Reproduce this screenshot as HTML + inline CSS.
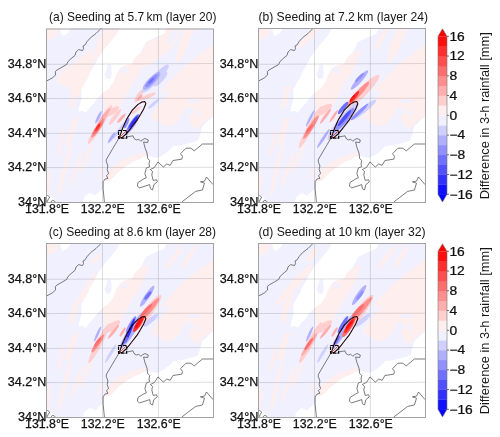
<!DOCTYPE html><html><head><meta charset="utf-8"><style>html,body{margin:0;padding:0;background:#fff;width:500px;height:437px;overflow:hidden}svg{display:block}text{font-family:"Liberation Sans",sans-serif;fill:#111;stroke:#111;stroke-width:0.25px}text.t{stroke:none;fill:#161616}</style></head><body>
<svg style="will-change:transform" width="500" height="437" viewBox="0 0 500 437">
<rect width="500" height="437" fill="#fff"/>
<defs><clipPath id="pc"><rect x="0" y="0" width="167" height="174"/></clipPath>
<g id="bg">
<rect x="0" y="0" width="167" height="174" fill="rgb(240,240,255)"/>
<g fill="rgb(255,238,238)">
<polygon points="0,0 13,0 11,7 6,11 0,12"/>
<polygon points="167,16.5 141.2,35.7 136.6,40 127.5,49.2 120,56.5 114.6,63.8 126,64 120,68 116.5,72.4 108.2,83.3 104.1,88.8 111,93 116.5,97 123.3,98.4 130.2,94.3 135.7,87.5 139.8,80.6 145,96 150.8,101.5 157,95 167,87.5"/>
<polygon points="96,24 104,22 98,36 92,48 84,60 78,72 70,86 60,90 56,64 63,56 66,50 69,43 75,36 88,29"/>
<polygon points="57.5,155 60,146 66,139 75,133 86,128 97,125 104,124 97.5,128.7 93.3,131.5 86.5,134 78.2,139.5 72,144.5 68.5,148.3 64.3,152.5"/>
<polygon points="28,58 33,58 27,80 22,80"/>
<polygon points="27,90 32,90 24,117 18,117"/>
<ellipse transform="translate(18.6,142.2) rotate(102.9)" rx="27.5" ry="2.00"/><ellipse transform="translate(30.1,140.5) rotate(110.3)" rx="19.7" ry="1.75"/><ellipse transform="translate(39.9,130.5) rotate(114.4)" rx="16.6" ry="1.75"/><ellipse transform="translate(54.0,144.5) rotate(104.9)" rx="7.8" ry="1.25"/><ellipse transform="translate(2.0,157.5) rotate(93.5)" rx="16.5" ry="1.50"/><ellipse transform="translate(15.0,115.0) rotate(101.3)" rx="15.3" ry="1.50"/>
</g>
</g>
<g id="bgw"><g fill="#fff">
<polygon points="14,0 25,0 22,5 17,8 15,5"/>
<polygon points="74,0 121,0 118,6 110,9 100,14 95,24 88,31 86,36 78,37.5 73.5,40.8 70,47 68,53 65.5,57 63,60.2 57.5,64.3 54.7,67.1 50.6,71.2 47.9,75.3 43.7,79.5 39.6,85 36.9,82.9 32.7,83.6 32.7,80.8 35.5,71.2 35.5,61.6 38.2,56.1 42.4,49.2 43.7,45.1 47.9,38.2 52,30 58,21.6 64,14.4 70,7.2"/>
<polygon points="37,174 38.2,169 43.7,164.8 49.2,167.6 54.7,162 57.5,160.7 57.3,155 58.8,153.8 64.3,152.5 68.5,148.3 72,144.5 78.2,139.5 86.5,134 93.3,131.5 97.5,128.7 103,128 111.2,130 116.7,127.3 122.2,123.2 127.7,117.7 130.3,118.1 137.2,116.7 148.2,114 152.3,112 154.4,105 156.4,98.2 162,92.7 167,88.6 167,174"/>
<polygon points="0,164.5 10.5,174 0,174"/>
</g>
<g fill="rgb(240,240,255)">
<ellipse cx="141.8" cy="83.3" rx="4.8" ry="4.1"/><ellipse cx="148" cy="73" rx="6.9" ry="2"/><ellipse cx="152" cy="84.8" rx="2.7" ry="2.7"/>
<polygon points="61.5,36.4 65,36.4 65.8,45 64.5,50.8 60,50.5 58.6,46 60.5,42"/><ellipse cx="78" cy="42.5" rx="3.2" ry="3"/>
</g></g>
<g id="coast" fill="none" stroke="#505050" stroke-width="0.75" stroke-linejoin="round">
<polyline points="0,53.3 6.2,50 9.6,47 9.3,43.5 11,42 20.6,36.5 22,33.5 26,29.8 29,27.4 30,24 32.6,21.6 35,22.2 36.5,22.6 37.5,20.6 37,18 39,17 41,13.7 44.6,9.6 50,5.5 55.5,0"/>
<polyline points="73,110 60.5,131.2 60.2,133.2 61.9,138 61.2,141.5 62.6,145.6 60.5,147.6 61.9,150.4 59.1,151 57.1,153.8 57.1,160.7 58.4,174"/>
<polyline points="80.4,109 87,107.8 88,110.5 90.5,112 92.7,111.2 94.8,113.3 96.2,112 98.9,110.5 102.3,112 101.7,114.6 97.6,114 98.9,119.5 101,125 101.7,130.5 103.7,132.5 103,136 103.7,138.7 100.3,140 98.9,145.6 100.3,149.7 97.6,151 92,154.5 91.4,158 93.4,160 103.7,156.6 104.4,160.7 106.5,162 107.9,156.6 111.3,153.8 110.6,151.8 107.2,152.4 105.8,147 106.5,143.5 104.4,141.5 108.5,139.4 112,133.9 117.3,139.1 120.7,136 124.2,137.3 126.9,132.5 135.8,131.2 136.5,128.4 134.5,125.7 140,120.2 144.8,120.2 148.2,122.9 156.4,116 167,116"/>
<polyline points="135.8,174 149.6,163.4 156.4,162 158.5,155.2 154.4,153.8 158.5,153.1 160.5,149 167,156.6"/>
<polyline points="0,166.4 1.4,167.3 3.7,169.1 2.3,171.4 0.9,174"/>
<polyline points="5,174 6.4,172.3 8.2,172.8 9.2,174"/>

</g>
<g id="grid" stroke="#c8c8c8" stroke-width="1">
</g>
<g id="ctr"><path d="M73.1,110.1 L76.5,100.5 L80.6,91.3 L86.3,82.1 L92,76.4 L96,74 L98.9,73.6 L99.8,75.8 L97.7,81 L94.5,86.5 L90.9,92.4 L86.5,98 L82.9,102.7 L79.5,106.5 L76,109.6 Z" fill="none" stroke="#000" stroke-width="1.05" stroke-linejoin="round"/><path d="M73.1,110.1 L76.5,100.5 L80.6,91.3 L86.3,82.1 L92,76.4 L96,74 L98.9,73.6 L99.8,75.8 L97.7,81 L94.5,86.5 L90.9,92.4 L86.5,98 L82.9,102.7 L79.5,106.5 L76,109.6 Z" fill="none" stroke="#d02020" stroke-width="0.55" stroke-dasharray="1.6,2.4" stroke-linejoin="round"/><rect x="72.5" y="102.5" width="8.2" height="7.6" fill="none" stroke="#000" stroke-width="1.1" stroke-dasharray="3.5,1"/><line x1="73" y1="110" x2="80.5" y2="102.6" stroke="#c01818" stroke-width="0.7"/></g>
</defs>
<text class="t" x="49.0" y="21.0" font-size="12.4" textLength="167.4" lengthAdjust="spacingAndGlyphs">(a) Seeding at 5.7 km (layer 20)</text>
<g transform="translate(46,28)"><g clip-path="url(#pc)">
<use href="#bg"/>
<g fill="rgb(255,238,238)">
<polygon points="60,0 74,0 70,7.2 64,14.4 58,21.6 52,28.8 47.2,34.8 43.7,45.1 38.2,56.1 35.5,62 33,70 28,66 22,60 14,56 10,53 11.6,50 14.1,44.9 18.2,40.2 22,38.8 25,37 36.4,27.9 44.4,21 51.3,11.9 54.7,7.3 58,2"/>
<polygon points="122,0 135.7,0 130.2,13.7 123.3,22 113.7,30.2 100,38.4 95,38 100,14 104.1,13.7 109.6,11 116.5,6.9"/>
<polygon points="139.8,0 149.4,0 143,14 139.8,24 133,34.3 130,34 131,24 134,12"/>
</g>
<g fill="rgb(240,240,255)">
<polygon points="50.5,8.5 52.5,10 50,20 48,27 46,26 47.5,18"/>
<polygon points="124.7,2.7 132.9,2.7 126,16.5 122,15"/>
</g>
<use href="#bgw"/>
<ellipse transform="translate(54.0,96.5) rotate(-58.4)" rx="22.9" ry="3.00" fill="rgb(255,206,206)"/>
<ellipse transform="translate(66.0,83.5) rotate(-32.7)" rx="8.3" ry="3.00" fill="rgb(255,206,206)"/>
<ellipse transform="translate(69.0,89.0) rotate(-53.1)" rx="10.0" ry="2.00" fill="rgb(255,206,206)"/>
<ellipse transform="translate(57.5,89.5) rotate(-55.6)" rx="11.5" ry="2.00" fill="rgb(255,174,174)"/>
<ellipse transform="translate(93.0,68.0) rotate(-56.3)" rx="7.2" ry="2.50" fill="rgb(255,206,206)"/>
<ellipse transform="translate(101.5,68.5) rotate(-22.4)" rx="9.2" ry="2.00" fill="rgb(255,206,206)"/>
<ellipse transform="translate(109.5,50.6) rotate(-46.4)" rx="18.9" ry="4.00" fill="rgb(208,208,255)"/>
<ellipse transform="translate(114.5,51.0) rotate(-47.1)" rx="9.6" ry="3.00" fill="rgb(208,208,255)"/>
<ellipse transform="translate(73.8,101.6) rotate(-53.2)" rx="11.4" ry="1.50" fill="rgb(208,208,255)"/>
<ellipse transform="translate(65.7,109.7) rotate(-55.7)" rx="6.5" ry="1.50" fill="rgb(176,176,255)"/>
<ellipse transform="translate(107.5,76.0) rotate(-41.1)" rx="7.3" ry="1.50" fill="rgb(208,208,255)"/>
<ellipse transform="translate(52.5,89.3) rotate(-63.6)" rx="6.9" ry="1.40" fill="rgb(176,176,255)"/>
<ellipse transform="translate(51.9,100.2) rotate(-56.3)" rx="11.5" ry="2.25" fill="rgb(255,142,142)"/>
<ellipse transform="translate(51.5,100.2) rotate(-54.2)" rx="7.7" ry="1.80" fill="rgb(255,110,110)"/>
<ellipse transform="translate(51.8,99.2) rotate(-59.0)" rx="4.4" ry="1.30" fill="rgb(255,46,46)"/>
<ellipse transform="translate(75.4,90.2) rotate(-48.7)" rx="6.1" ry="1.50" fill="rgb(255,174,174)"/>
<ellipse transform="translate(93.5,69.8) rotate(-48.2)" rx="3.8" ry="1.50" fill="rgb(255,174,174)"/>
<ellipse transform="translate(90.5,82.0) rotate(-41.6)" rx="6.0" ry="1.50" fill="rgb(255,206,206)"/>
<ellipse transform="translate(105.6,53.0) rotate(-45.5)" rx="12.0" ry="3.50" fill="rgb(176,176,255)"/>
<ellipse transform="translate(105.5,52.8) rotate(-46.2)" rx="8.7" ry="2.40" fill="rgb(144,144,255)"/>
<ellipse transform="translate(105.2,52.8) rotate(-45.0)" rx="3.9" ry="1.20" fill="rgb(112,112,255)"/>
<ellipse transform="translate(86.5,96.0) rotate(-57.0)" rx="11.9" ry="2.75" fill="rgb(144,144,255)"/>
<ellipse transform="translate(80.6,95.2) rotate(-65.9)" rx="5.6" ry="1.50" fill="rgb(144,144,255)"/>
<ellipse transform="translate(87.2,94.5) rotate(-55.0)" rx="9.2" ry="2.10" fill="rgb(112,112,255)"/>
<ellipse transform="translate(87.5,94.2) rotate(-55.2)" rx="7.0" ry="1.60" fill="rgb(48,48,255)"/>
<line x1="56.5" y1="0" x2="56.5" y2="174" stroke="rgb(128,128,128)" stroke-opacity="0.3" stroke-width="0.9"/>
<line x1="112.4" y1="0" x2="112.4" y2="174" stroke="rgb(128,128,128)" stroke-opacity="0.3" stroke-width="0.9"/>
<line x1="0" y1="36.3" x2="167" y2="35.5" stroke="rgb(128,128,128)" stroke-opacity="0.3" stroke-width="0.9"/>
<line x1="0" y1="70.5" x2="167" y2="70.2" stroke="rgb(128,128,128)" stroke-opacity="0.3" stroke-width="0.9"/>
<line x1="0" y1="105.4" x2="167" y2="104.6" stroke="rgb(128,128,128)" stroke-opacity="0.3" stroke-width="0.9"/>
<line x1="0" y1="139.6" x2="167" y2="139.3" stroke="rgb(128,128,128)" stroke-opacity="0.3" stroke-width="0.9"/>
<use href="#coast"/>
<use href="#ctr"/>
</g>
<path d="M0.5,1.0 V174.5 M167.5,1.0 V174.5 M0,1.0 H168.0 M0,174.5 H168.0" fill="none" stroke="#a2a2a2" stroke-width="1"/>
</g>
<text x="7.8" y="67.6" font-size="12" textLength="38.6" lengthAdjust="spacingAndGlyphs">34.8°N</text>
<text x="7.8" y="101.9" font-size="12" textLength="38.6" lengthAdjust="spacingAndGlyphs">34.6°N</text>
<text x="7.8" y="136.8" font-size="12" textLength="38.6" lengthAdjust="spacingAndGlyphs">34.4°N</text>
<text x="7.8" y="171.1" font-size="12" textLength="38.6" lengthAdjust="spacingAndGlyphs">34.2°N</text>
<text x="18.0" y="205.6" font-size="12" textLength="28.4" lengthAdjust="spacingAndGlyphs">34°N</text>
<text x="25.1" y="213.0" font-size="12" textLength="44.0" lengthAdjust="spacingAndGlyphs">131.8°E</text>
<text x="80.8" y="213.0" font-size="12" textLength="44.0" lengthAdjust="spacingAndGlyphs">132.2°E</text>
<text x="136.8" y="213.0" font-size="12" textLength="44.0" lengthAdjust="spacingAndGlyphs">132.6°E</text>
<text class="t" x="258.4" y="21.0" font-size="12.4" textLength="169.6" lengthAdjust="spacingAndGlyphs">(b) Seeding at 7.2 km (layer 24)</text>
<g transform="translate(258,28)"><g clip-path="url(#pc)">
<use href="#bg"/>
<g fill="rgb(255,238,238)">
<polygon points="56,0 62,0 56,8 50,14 44,19 38,21 40,16 48,8"/>
<polygon points="139.8,0 149.4,0 143,14 139.8,24 133,34.3 130,34 131,24 134,12"/>
<polygon points="126,0 131,0 125,12 118,22 115,21 121,10"/>
</g>
<use href="#bgw"/>
<ellipse transform="translate(52.5,99.0) rotate(-61.3)" rx="23.9" ry="3.00" fill="rgb(255,206,206)"/>
<ellipse transform="translate(65.2,82.0) rotate(-32.2)" rx="10.3" ry="3.50" fill="rgb(255,206,206)"/>
<ellipse transform="translate(105.0,63.5) rotate(-45.9)" rx="23.0" ry="4.50" fill="rgb(255,206,206)"/>
<ellipse transform="translate(85.0,93.5) rotate(-51.0)" rx="23.8" ry="5.00" fill="rgb(208,208,255)"/>
<ellipse transform="translate(105.5,82.0) rotate(-38.7)" rx="16.0" ry="3.00" fill="rgb(208,208,255)"/>
<ellipse transform="translate(101.5,52.0) rotate(-48.5)" rx="12.8" ry="2.50" fill="rgb(176,176,255)"/>
<ellipse transform="translate(65.3,110.5) rotate(-56.4)" rx="11.4" ry="1.50" fill="rgb(176,176,255)"/>
<ellipse transform="translate(52.2,90.2) rotate(-62.7)" rx="9.3" ry="1.25" fill="rgb(176,176,255)"/>
<ellipse transform="translate(67.5,88.2) rotate(-53.9)" rx="9.3" ry="1.50" fill="rgb(255,174,174)"/>
<ellipse transform="translate(75.7,88.2) rotate(-56.3)" rx="7.4" ry="1.25" fill="rgb(255,174,174)"/>
<ellipse transform="translate(53.0,99.2) rotate(-57.1)" rx="13.9" ry="2.25" fill="rgb(255,142,142)"/>
<ellipse transform="translate(51.5,100.5) rotate(-52.1)" rx="5.7" ry="1.50" fill="rgb(255,110,110)"/>
<ellipse transform="translate(101.5,49.5) rotate(-45.0)" rx="6.4" ry="1.50" fill="rgb(144,144,255)"/>
<ellipse transform="translate(100.0,66.0) rotate(-47.5)" rx="16.3" ry="2.75" fill="rgb(255,142,142)"/>
<ellipse transform="translate(96.5,68.8) rotate(-52.0)" rx="7.3" ry="1.80" fill="rgb(255,46,46)"/>
<ellipse transform="translate(94.5,70.0) rotate(-50.2)" rx="3.9" ry="1.10" fill="rgb(255,14,14)"/>
<ellipse transform="translate(85.0,80.0) rotate(-50.2)" rx="7.8" ry="2.00" fill="rgb(112,112,255)"/>
<ellipse transform="translate(86.0,92.0) rotate(-50.2)" rx="15.6" ry="3.00" fill="rgb(144,144,255)"/>
<ellipse transform="translate(86.5,90.0) rotate(-50.9)" rx="10.3" ry="1.75" fill="rgb(80,80,255)"/>
<ellipse transform="translate(101.5,84.0) rotate(-43.3)" rx="11.7" ry="1.75" fill="rgb(144,144,255)"/>
<line x1="56.5" y1="0" x2="56.5" y2="174" stroke="rgb(128,128,128)" stroke-opacity="0.3" stroke-width="0.9"/>
<line x1="112.4" y1="0" x2="112.4" y2="174" stroke="rgb(128,128,128)" stroke-opacity="0.3" stroke-width="0.9"/>
<line x1="0" y1="36.3" x2="167" y2="35.5" stroke="rgb(128,128,128)" stroke-opacity="0.3" stroke-width="0.9"/>
<line x1="0" y1="70.5" x2="167" y2="70.2" stroke="rgb(128,128,128)" stroke-opacity="0.3" stroke-width="0.9"/>
<line x1="0" y1="105.4" x2="167" y2="104.6" stroke="rgb(128,128,128)" stroke-opacity="0.3" stroke-width="0.9"/>
<line x1="0" y1="139.6" x2="167" y2="139.3" stroke="rgb(128,128,128)" stroke-opacity="0.3" stroke-width="0.9"/>
<use href="#coast"/>
<use href="#ctr"/>
</g>
<path d="M0.5,0.5 V174.5 M167.5,0.5 V174.5 M0,0.5 H168.0 M0,174.5 H168.0" fill="none" stroke="#a2a2a2" stroke-width="1"/>
</g>
<text x="219.8" y="67.6" font-size="12" textLength="38.6" lengthAdjust="spacingAndGlyphs">34.8°N</text>
<text x="219.8" y="101.9" font-size="12" textLength="38.6" lengthAdjust="spacingAndGlyphs">34.6°N</text>
<text x="219.8" y="136.8" font-size="12" textLength="38.6" lengthAdjust="spacingAndGlyphs">34.4°N</text>
<text x="219.8" y="171.1" font-size="12" textLength="38.6" lengthAdjust="spacingAndGlyphs">34.2°N</text>
<text x="230.0" y="205.6" font-size="12" textLength="28.4" lengthAdjust="spacingAndGlyphs">34°N</text>
<text x="237.1" y="213.0" font-size="12" textLength="44.0" lengthAdjust="spacingAndGlyphs">131.8°E</text>
<text x="292.8" y="213.0" font-size="12" textLength="44.0" lengthAdjust="spacingAndGlyphs">132.2°E</text>
<text x="348.8" y="213.0" font-size="12" textLength="44.0" lengthAdjust="spacingAndGlyphs">132.6°E</text>
<text class="t" x="48.8" y="236.0" font-size="12.4" textLength="167.2" lengthAdjust="spacingAndGlyphs">(c) Seeding at 8.6 km (layer 28)</text>
<g transform="translate(46,243)"><g clip-path="url(#pc)">
<use href="#bg"/>
<g fill="rgb(255,238,238)">
<ellipse transform="translate(40,45) rotate(-58)" rx="19" ry="2.2"/>
<ellipse transform="translate(39,53) rotate(-55)" rx="7" ry="1.8"/>
<ellipse transform="translate(50,16) rotate(-50)" rx="7" ry="2.5"/>
<ellipse transform="translate(128,15) rotate(-52)" rx="16" ry="2.2"/>
<ellipse transform="translate(143,14) rotate(-60)" rx="14" ry="2.2"/>
</g>
<use href="#bgw"/>
<ellipse transform="translate(53.0,100.3) rotate(-62.3)" rx="22.3" ry="3.00" fill="rgb(255,206,206)"/>
<ellipse transform="translate(65.2,84.0) rotate(-34.4)" rx="10.6" ry="3.50" fill="rgb(255,206,206)"/>
<ellipse transform="translate(101.2,70.0) rotate(-52.6)" rx="22.7" ry="4.50" fill="rgb(255,206,206)"/>
<ellipse transform="translate(101.2,53.2) rotate(-56.4)" rx="12.4" ry="2.50" fill="rgb(176,176,255)"/>
<ellipse transform="translate(85.5,88.0) rotate(-57.4)" rx="21.4" ry="3.50" fill="rgb(176,176,255)"/>
<ellipse transform="translate(64.6,110.6) rotate(-59.2)" rx="10.9" ry="1.50" fill="rgb(208,208,255)"/>
<ellipse transform="translate(51.6,91.0) rotate(-65.8)" rx="8.3" ry="1.25" fill="rgb(176,176,255)"/>
<ellipse transform="translate(104.8,77.2) rotate(-41.0)" rx="9.5" ry="2.50" fill="rgb(208,208,255)"/>
<ellipse transform="translate(67.5,88.8) rotate(-51.2)" rx="8.8" ry="1.50" fill="rgb(255,174,174)"/>
<ellipse transform="translate(76.6,89.0) rotate(-58.2)" rx="5.4" ry="1.25" fill="rgb(255,174,174)"/>
<ellipse transform="translate(51.7,100.5) rotate(-55.3)" rx="10.9" ry="2.00" fill="rgb(255,142,142)"/>
<ellipse transform="translate(51.6,99.2) rotate(-55.0)" rx="5.9" ry="1.50" fill="rgb(255,110,110)"/>
<ellipse transform="translate(101.9,52.5) rotate(-50.3)" rx="5.3" ry="1.50" fill="rgb(112,112,255)"/>
<ellipse transform="translate(102.5,67.5) rotate(-50.0)" rx="16.3" ry="2.75" fill="rgb(255,142,142)"/>
<ellipse transform="translate(100.0,67.5) rotate(-47.3)" rx="8.8" ry="1.75" fill="rgb(255,110,110)"/>
<ellipse transform="translate(85.0,81.5) rotate(-59.5)" rx="9.9" ry="2.00" fill="rgb(144,144,255)"/>
<ellipse transform="translate(84.0,87.3) rotate(-69.0)" rx="12.9" ry="1.60" fill="rgb(48,48,255)"/>
<ellipse transform="translate(79.0,98.0) rotate(-53.1)" rx="5.0" ry="1.25" fill="rgb(112,112,255)"/>
<ellipse transform="translate(92.6,81.0) rotate(-57.2)" rx="9.5" ry="2.50" fill="rgb(255,46,46)"/>
<ellipse transform="translate(92.5,80.0) rotate(-55.0)" rx="6.1" ry="1.50" fill="rgb(255,14,14)"/>
<line x1="56.5" y1="0" x2="56.5" y2="174" stroke="rgb(128,128,128)" stroke-opacity="0.3" stroke-width="0.9"/>
<line x1="112.4" y1="0" x2="112.4" y2="174" stroke="rgb(128,128,128)" stroke-opacity="0.3" stroke-width="0.9"/>
<line x1="0" y1="36.3" x2="167" y2="35.5" stroke="rgb(128,128,128)" stroke-opacity="0.3" stroke-width="0.9"/>
<line x1="0" y1="70.5" x2="167" y2="70.2" stroke="rgb(128,128,128)" stroke-opacity="0.3" stroke-width="0.9"/>
<line x1="0" y1="105.4" x2="167" y2="104.6" stroke="rgb(128,128,128)" stroke-opacity="0.3" stroke-width="0.9"/>
<line x1="0" y1="139.6" x2="167" y2="139.3" stroke="rgb(128,128,128)" stroke-opacity="0.3" stroke-width="0.9"/>
<use href="#coast"/>
<use href="#ctr"/>
</g>
<path d="M0.5,0.5 V174.5 M167.5,0.5 V174.5 M0,0.5 H168.0 M0,174.5 H168.0" fill="none" stroke="#a2a2a2" stroke-width="1"/>
</g>
<text x="7.8" y="282.6" font-size="12" textLength="38.6" lengthAdjust="spacingAndGlyphs">34.8°N</text>
<text x="7.8" y="316.9" font-size="12" textLength="38.6" lengthAdjust="spacingAndGlyphs">34.6°N</text>
<text x="7.8" y="351.8" font-size="12" textLength="38.6" lengthAdjust="spacingAndGlyphs">34.4°N</text>
<text x="7.8" y="386.1" font-size="12" textLength="38.6" lengthAdjust="spacingAndGlyphs">34.2°N</text>
<text x="18.0" y="420.6" font-size="12" textLength="28.4" lengthAdjust="spacingAndGlyphs">34°N</text>
<text x="25.1" y="428.0" font-size="12" textLength="44.0" lengthAdjust="spacingAndGlyphs">131.8°E</text>
<text x="80.8" y="428.0" font-size="12" textLength="44.0" lengthAdjust="spacingAndGlyphs">132.2°E</text>
<text x="136.8" y="428.0" font-size="12" textLength="44.0" lengthAdjust="spacingAndGlyphs">132.6°E</text>
<text class="t" x="258.4" y="236.0" font-size="12.4" textLength="167.3" lengthAdjust="spacingAndGlyphs">(d) Seeding at 10 km (layer 32)</text>
<g transform="translate(258,243)"><g clip-path="url(#pc)">
<use href="#bg"/>
<g fill="rgb(255,238,238)">
<ellipse transform="translate(36,42) rotate(-48)" rx="28" ry="4"/>
<ellipse transform="translate(30,58) rotate(-55)" rx="10" ry="2"/>
<ellipse transform="translate(54,12) rotate(-50)" rx="8" ry="3"/>
<ellipse transform="translate(128,15) rotate(-52)" rx="16" ry="2.2"/>
<ellipse transform="translate(143,14) rotate(-60)" rx="14" ry="2.2"/>
</g>
<use href="#bgw"/>
<ellipse transform="translate(52.4,99.6) rotate(-61.7)" rx="23.2" ry="3.00" fill="rgb(255,206,206)"/>
<ellipse transform="translate(65.2,84.0) rotate(-34.4)" rx="10.6" ry="3.50" fill="rgb(255,206,206)"/>
<ellipse transform="translate(101.2,70.0) rotate(-52.6)" rx="22.7" ry="4.50" fill="rgb(255,206,206)"/>
<ellipse transform="translate(101.2,52.0) rotate(-55.6)" rx="12.1" ry="2.50" fill="rgb(176,176,255)"/>
<ellipse transform="translate(85.5,88.0) rotate(-57.4)" rx="21.4" ry="3.00" fill="rgb(176,176,255)"/>
<ellipse transform="translate(64.6,110.6) rotate(-59.2)" rx="10.9" ry="1.50" fill="rgb(208,208,255)"/>
<ellipse transform="translate(51.6,91.0) rotate(-65.8)" rx="8.3" ry="1.25" fill="rgb(176,176,255)"/>
<ellipse transform="translate(104.8,77.2) rotate(-41.0)" rx="9.5" ry="2.50" fill="rgb(208,208,255)"/>
<ellipse transform="translate(67.5,88.8) rotate(-51.2)" rx="8.8" ry="1.50" fill="rgb(255,174,174)"/>
<ellipse transform="translate(76.6,89.0) rotate(-58.2)" rx="5.4" ry="1.25" fill="rgb(255,174,174)"/>
<ellipse transform="translate(51.2,101.5) rotate(-56.0)" rx="13.9" ry="2.00" fill="rgb(255,174,174)"/>
<ellipse transform="translate(50.8,101.0) rotate(-54.7)" rx="7.4" ry="1.50" fill="rgb(255,110,110)"/>
<ellipse transform="translate(102.0,52.3) rotate(-50.9)" rx="5.5" ry="1.50" fill="rgb(144,144,255)"/>
<ellipse transform="translate(103.0,67.0) rotate(-49.8)" rx="17.0" ry="2.75" fill="rgb(255,142,142)"/>
<ellipse transform="translate(100.0,67.5) rotate(-47.3)" rx="8.8" ry="2.00" fill="rgb(255,110,110)"/>
<ellipse transform="translate(85.0,81.5) rotate(-59.5)" rx="9.9" ry="2.00" fill="rgb(112,112,255)"/>
<ellipse transform="translate(78.6,97.5) rotate(-57.2)" rx="5.4" ry="1.50" fill="rgb(112,112,255)"/>
<ellipse transform="translate(90.8,84.2) rotate(-57.3)" rx="11.6" ry="2.75" fill="rgb(255,110,110)"/>
<ellipse transform="translate(91.4,82.5) rotate(-55.5)" rx="9.1" ry="2.10" fill="rgb(255,46,46)"/>
<ellipse transform="translate(91.5,81.5) rotate(-52.1)" rx="5.7" ry="1.30" fill="rgb(255,14,14)"/>
<line x1="56.5" y1="0" x2="56.5" y2="174" stroke="rgb(128,128,128)" stroke-opacity="0.3" stroke-width="0.9"/>
<line x1="112.4" y1="0" x2="112.4" y2="174" stroke="rgb(128,128,128)" stroke-opacity="0.3" stroke-width="0.9"/>
<line x1="0" y1="36.3" x2="167" y2="35.5" stroke="rgb(128,128,128)" stroke-opacity="0.3" stroke-width="0.9"/>
<line x1="0" y1="70.5" x2="167" y2="70.2" stroke="rgb(128,128,128)" stroke-opacity="0.3" stroke-width="0.9"/>
<line x1="0" y1="105.4" x2="167" y2="104.6" stroke="rgb(128,128,128)" stroke-opacity="0.3" stroke-width="0.9"/>
<line x1="0" y1="139.6" x2="167" y2="139.3" stroke="rgb(128,128,128)" stroke-opacity="0.3" stroke-width="0.9"/>
<use href="#coast"/>
<use href="#ctr"/>
</g>
<path d="M0.5,0.5 V174.5 M167.5,0.5 V174.5 M0,0.5 H168.0 M0,174.5 H168.0" fill="none" stroke="#a2a2a2" stroke-width="1"/>
</g>
<text x="219.8" y="282.6" font-size="12" textLength="38.6" lengthAdjust="spacingAndGlyphs">34.8°N</text>
<text x="219.8" y="316.9" font-size="12" textLength="38.6" lengthAdjust="spacingAndGlyphs">34.6°N</text>
<text x="219.8" y="351.8" font-size="12" textLength="38.6" lengthAdjust="spacingAndGlyphs">34.4°N</text>
<text x="219.8" y="386.1" font-size="12" textLength="38.6" lengthAdjust="spacingAndGlyphs">34.2°N</text>
<text x="230.0" y="420.6" font-size="12" textLength="28.4" lengthAdjust="spacingAndGlyphs">34°N</text>
<text x="237.1" y="428.0" font-size="12" textLength="44.0" lengthAdjust="spacingAndGlyphs">131.8°E</text>
<text x="292.8" y="428.0" font-size="12" textLength="44.0" lengthAdjust="spacingAndGlyphs">132.2°E</text>
<text x="348.8" y="428.0" font-size="12" textLength="44.0" lengthAdjust="spacingAndGlyphs">132.6°E</text>
<g>
<rect x="438" y="184.43" width="9" height="10.18" fill="rgb(16,16,255)"/>
<rect x="438" y="174.55" width="9" height="10.18" fill="rgb(48,48,255)"/>
<rect x="438" y="164.68" width="9" height="10.18" fill="rgb(80,80,255)"/>
<rect x="438" y="154.80" width="9" height="10.18" fill="rgb(112,112,255)"/>
<rect x="438" y="144.93" width="9" height="10.18" fill="rgb(144,144,255)"/>
<rect x="438" y="135.05" width="9" height="10.18" fill="rgb(176,176,255)"/>
<rect x="438" y="125.18" width="9" height="10.18" fill="rgb(208,208,255)"/>
<rect x="438" y="115.30" width="9" height="10.18" fill="rgb(240,240,255)"/>
<rect x="438" y="105.43" width="9" height="10.18" fill="rgb(255,238,238)"/>
<rect x="438" y="95.55" width="9" height="10.18" fill="rgb(255,206,206)"/>
<rect x="438" y="85.68" width="9" height="10.18" fill="rgb(255,174,174)"/>
<rect x="438" y="75.80" width="9" height="10.18" fill="rgb(255,142,142)"/>
<rect x="438" y="65.93" width="9" height="10.18" fill="rgb(255,110,110)"/>
<rect x="438" y="56.05" width="9" height="10.18" fill="rgb(255,78,78)"/>
<rect x="438" y="46.18" width="9" height="10.18" fill="rgb(255,46,46)"/>
<rect x="438" y="36.30" width="9" height="10.18" fill="rgb(255,14,14)"/>
<polygon points="438,36.30 442.5,28.80 447,36.30" fill="rgb(255,0,0)"/>
<polygon points="438,194.30 442.5,202.00 447,194.30" fill="rgb(0,0,255)"/>
<polygon points="438,36.30 442.5,28.80 447,36.30 447,194.30 442.5,202.00 438,194.30" fill="none" stroke="#777" stroke-width="0.6"/>
<line x1="447" y1="194.30" x2="449.0" y2="194.30" stroke="#333" stroke-width="0.7"/>
<text transform="translate(449.4,198.60) scale(1.15,1)" font-size="12">−16</text>
<line x1="447" y1="174.55" x2="449.0" y2="174.55" stroke="#333" stroke-width="0.7"/>
<text transform="translate(449.4,178.85) scale(1.15,1)" font-size="12">−12</text>
<line x1="447" y1="154.80" x2="449.0" y2="154.80" stroke="#333" stroke-width="0.7"/>
<text transform="translate(449.4,159.10) scale(1.15,1)" font-size="12">−8</text>
<line x1="447" y1="135.05" x2="449.0" y2="135.05" stroke="#333" stroke-width="0.7"/>
<text transform="translate(449.4,139.35) scale(1.15,1)" font-size="12">−4</text>
<line x1="447" y1="115.30" x2="449.0" y2="115.30" stroke="#333" stroke-width="0.7"/>
<text transform="translate(449.4,119.60) scale(1.15,1)" font-size="12">0</text>
<line x1="447" y1="95.55" x2="449.0" y2="95.55" stroke="#333" stroke-width="0.7"/>
<text transform="translate(449.4,99.85) scale(1.15,1)" font-size="12">4</text>
<line x1="447" y1="75.80" x2="449.0" y2="75.80" stroke="#333" stroke-width="0.7"/>
<text transform="translate(449.4,80.10) scale(1.15,1)" font-size="12">8</text>
<line x1="447" y1="56.05" x2="449.0" y2="56.05" stroke="#333" stroke-width="0.7"/>
<text transform="translate(449.4,60.35) scale(1.15,1)" font-size="12">12</text>
<line x1="447" y1="36.30" x2="449.0" y2="36.30" stroke="#333" stroke-width="0.7"/>
<text transform="translate(449.4,40.60) scale(1.15,1)" font-size="12">16</text>
<text class="t" transform="translate(489.2,115.8) rotate(-90)" font-size="12.6" text-anchor="middle" textLength="167" lengthAdjust="spacingAndGlyphs">Difference in 3-h rainfall [mm]</text>
</g>
<g>
<rect x="438" y="399.43" width="9" height="10.18" fill="rgb(16,16,255)"/>
<rect x="438" y="389.55" width="9" height="10.18" fill="rgb(48,48,255)"/>
<rect x="438" y="379.68" width="9" height="10.18" fill="rgb(80,80,255)"/>
<rect x="438" y="369.80" width="9" height="10.18" fill="rgb(112,112,255)"/>
<rect x="438" y="359.93" width="9" height="10.18" fill="rgb(144,144,255)"/>
<rect x="438" y="350.05" width="9" height="10.18" fill="rgb(176,176,255)"/>
<rect x="438" y="340.18" width="9" height="10.18" fill="rgb(208,208,255)"/>
<rect x="438" y="330.30" width="9" height="10.18" fill="rgb(240,240,255)"/>
<rect x="438" y="320.43" width="9" height="10.18" fill="rgb(255,238,238)"/>
<rect x="438" y="310.55" width="9" height="10.18" fill="rgb(255,206,206)"/>
<rect x="438" y="300.68" width="9" height="10.18" fill="rgb(255,174,174)"/>
<rect x="438" y="290.80" width="9" height="10.18" fill="rgb(255,142,142)"/>
<rect x="438" y="280.93" width="9" height="10.18" fill="rgb(255,110,110)"/>
<rect x="438" y="271.05" width="9" height="10.18" fill="rgb(255,78,78)"/>
<rect x="438" y="261.18" width="9" height="10.18" fill="rgb(255,46,46)"/>
<rect x="438" y="251.30" width="9" height="10.18" fill="rgb(255,14,14)"/>
<polygon points="438,251.30 442.5,243.80 447,251.30" fill="rgb(255,0,0)"/>
<polygon points="438,409.30 442.5,417.00 447,409.30" fill="rgb(0,0,255)"/>
<polygon points="438,251.30 442.5,243.80 447,251.30 447,409.30 442.5,417.00 438,409.30" fill="none" stroke="#777" stroke-width="0.6"/>
<line x1="447" y1="409.30" x2="449.0" y2="409.30" stroke="#333" stroke-width="0.7"/>
<text transform="translate(449.4,413.60) scale(1.15,1)" font-size="12">−16</text>
<line x1="447" y1="389.55" x2="449.0" y2="389.55" stroke="#333" stroke-width="0.7"/>
<text transform="translate(449.4,393.85) scale(1.15,1)" font-size="12">−12</text>
<line x1="447" y1="369.80" x2="449.0" y2="369.80" stroke="#333" stroke-width="0.7"/>
<text transform="translate(449.4,374.10) scale(1.15,1)" font-size="12">−8</text>
<line x1="447" y1="350.05" x2="449.0" y2="350.05" stroke="#333" stroke-width="0.7"/>
<text transform="translate(449.4,354.35) scale(1.15,1)" font-size="12">−4</text>
<line x1="447" y1="330.30" x2="449.0" y2="330.30" stroke="#333" stroke-width="0.7"/>
<text transform="translate(449.4,334.60) scale(1.15,1)" font-size="12">0</text>
<line x1="447" y1="310.55" x2="449.0" y2="310.55" stroke="#333" stroke-width="0.7"/>
<text transform="translate(449.4,314.85) scale(1.15,1)" font-size="12">4</text>
<line x1="447" y1="290.80" x2="449.0" y2="290.80" stroke="#333" stroke-width="0.7"/>
<text transform="translate(449.4,295.10) scale(1.15,1)" font-size="12">8</text>
<line x1="447" y1="271.05" x2="449.0" y2="271.05" stroke="#333" stroke-width="0.7"/>
<text transform="translate(449.4,275.35) scale(1.15,1)" font-size="12">12</text>
<line x1="447" y1="251.30" x2="449.0" y2="251.30" stroke="#333" stroke-width="0.7"/>
<text transform="translate(449.4,255.60) scale(1.15,1)" font-size="12">16</text>
<text class="t" transform="translate(489.2,330.8) rotate(-90)" font-size="12.6" text-anchor="middle" textLength="167" lengthAdjust="spacingAndGlyphs">Difference in 3-h rainfall [mm]</text>
</g>
</svg></body></html>
